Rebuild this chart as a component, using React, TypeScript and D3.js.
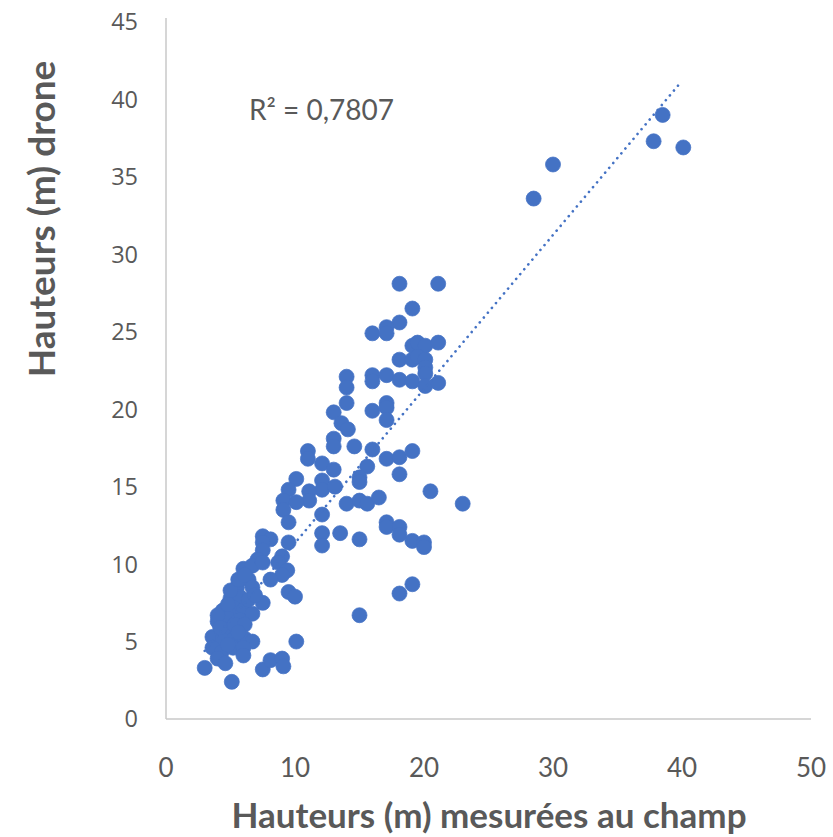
import React from "react";
import * as d3 from "d3";

// field heights (m) and drone heights (m)
const fieldHeights = [
  37.8, 38.5, 40.1, 30.0, 28.5, 18.1, 21.1, 19.1, 18.1, 17.1, 17.1, 16.0,
  19.1, 19.5, 20.1, 21.1, 18.1, 19.1, 19.5, 20.1, 20.1, 20.1, 16.0, 17.1,
  16.0, 18.1, 19.1, 20.1, 21.1, 17.1, 17.1, 16.0, 17.1, 14.0, 14.0, 14.0,
  13.0, 13.6, 14.1, 13.0, 13.0, 14.6, 16.0, 17.1, 18.1, 19.1, 18.1, 11.0,
  11.0, 12.1, 13.0, 15.6, 15.0, 15.0, 12.1, 12.1, 13.1, 10.1, 9.5, 11.1,
  11.1, 9.1, 10.1, 9.1, 14.0, 15.0, 15.6, 16.5, 20.5, 23.0, 12.1, 9.5,
  12.1, 12.1, 13.5, 15.0, 17.1, 17.1, 18.1, 18.1, 19.1, 20.0, 20.0, 19.1,
  18.1, 15.0, 7.5, 8.1, 7.5, 9.5, 7.5, 7.1, 9.0, 6.0, 6.7, 7.5,
  8.7, 9.4, 9.0, 5.5, 6.4, 6.7, 9.5, 10.0, 7.5, 5.0, 5.7, 4.4,
  5.2, 6.0, 6.7, 4.0, 4.8, 5.7, 4.7, 3.6, 4.4, 5.3, 6.1, 6.7,
  3.6, 4.3, 5.2, 6.0, 4.0, 4.6, 6.0, 3.0, 5.1, 7.5, 8.1, 9.0,
  9.1, 10.1, 5.0, 5.6, 6.1, 4.8, 4.0, 5.3, 6.1, 4.2, 5.6, 4.8,
  6.4, 6.9, 8.1,
];
const droneHeights = [
  37.3, 39.0, 36.9, 35.8, 33.6, 28.1, 28.1, 26.5, 25.6, 25.3, 24.9, 24.9,
  24.1, 24.3, 24.1, 24.3, 23.2, 23.2, 23.4, 23.2, 22.7, 22.3, 22.2, 22.2,
  21.8, 21.9, 21.8, 21.5, 21.7, 20.4, 20.1, 19.9, 19.3, 22.1, 21.4, 20.4,
  19.8, 19.1, 18.7, 18.1, 17.6, 17.6, 17.4, 16.8, 16.9, 17.3, 15.8, 17.3,
  16.8, 16.5, 16.1, 16.3, 15.6, 15.3, 15.4, 14.8, 15.0, 15.5, 14.8, 14.7,
  14.1, 14.1, 14.0, 13.5, 13.9, 14.1, 13.9, 14.3, 14.7, 13.9, 13.2, 12.7,
  12.0, 11.2, 12.0, 11.6, 12.7, 12.4, 12.4, 11.9, 11.5, 11.4, 11.1, 8.7,
  8.1, 6.7, 11.8, 11.6, 11.4, 11.4, 10.9, 10.3, 10.5, 9.7, 9.9, 10.1,
  10.1, 9.6, 9.3, 8.5, 9.0, 8.5, 8.2, 7.9, 7.5, 7.8, 7.9, 7.0,
  7.2, 7.0, 6.8, 6.3, 6.5, 6.4, 5.7, 5.3, 5.1, 5.2, 5.2, 5.0,
  4.6, 4.3, 4.6, 4.6, 3.9, 3.6, 4.1, 3.3, 2.4, 3.2, 3.8, 3.9,
  3.4, 5.0, 8.3, 9.0, 9.3, 7.4, 6.7, 6.1, 6.1, 5.9, 5.6, 4.8,
  7.7, 8.0, 9.0,
];

// linear trendline as drawn (start / end)
const trendX = [3.0, 39.7];
const trendY = [4.4, 40.9];
const rSquaredLabel = "R² = 0,7807";

const xTicks = [0, 10, 20, 30, 40, 50];
const yTicks = [0, 5, 10, 15, 20, 25, 30, 35, 40, 45];

const blue = "#4472C4";
const grey = "#595959";

export default function App() {
  const width = 833;
  const height = 837;

  const x = d3.scaleLinear().domain([0, 50]).range([166, 811]);
  const y = d3.scaleLinear().domain([0, 45]).range([719, 22]);

  const points = fieldHeights.map((d, i) => [d, droneHeights[i]]);
  const trend = d3.line()
    .x((d) => x(d[0]))
    .y((d) => y(d[1]))(trendX.map((d, i) => [d, trendY[i]]));

  return (
    <svg
      width={width}
      height={height}
      style={{ position: "absolute", left: 0, top: 0, background: "#fff" }}
    >
      {/* axes lines */}
      <line x1={x(0)} x2={x(0)} y1={y(45) - 4} y2={y(0)} stroke="#c8c8c8" strokeWidth={1.5} />
      <line x1={x(0)} x2={x(50)} y1={y(0)} y2={y(0)} stroke="#c8c8c8" strokeWidth={1.5} />

      {/* y tick labels */}
      <g fontFamily="Open Sans, sans-serif" fontSize={23.5} fill={grey} textAnchor="end">
        {yTicks.map((t) => (
          <text key={t} x={138} y={y(t)} dy="0.36em">{t}</text>
        ))}
      </g>

      {/* x tick labels */}
      <g fontFamily="Lato, sans-serif" fontSize={26} fill={grey} textAnchor="middle">
        {xTicks.map((t) => (
          <text key={t} x={x(t)} y={777}>{t}</text>
        ))}
      </g>

      {/* points */}
      <g fill={blue} stroke={blue} strokeWidth={0.75}>
        {points.map((d, i) => (
          <circle key={i} cx={x(d[0])} cy={y(d[1])} r={7.5} />
        ))}
      </g>

      {/* trendline */}
      <path
        d={trend}
        fill="none"
        stroke={blue}
        strokeWidth={2.6}
        strokeDasharray="0.1 6.2"
        strokeLinecap="round"
      />

      <text x={249} y={120} fontFamily="Lato, sans-serif" fontSize={28} fill={grey}>
        {rSquaredLabel}
      </text>

      {/* axis titles */}
      <text
        x={489}
        y={828}
        textAnchor="middle"
        fontFamily="Lato, sans-serif"
        fontWeight="bold"
        fontSize={35}
        fill={grey}
      >
        Hauteurs (m) mesurées au champ
      </text>
      <text
        transform={`translate(55,219) rotate(-90)`}
        textAnchor="middle"
        fontFamily="Lato, sans-serif"
        fontWeight="bold"
        fontSize={37}
        fill={grey}
      >
        Hauteurs (m) drone
      </text>
    </svg>
  );
}
